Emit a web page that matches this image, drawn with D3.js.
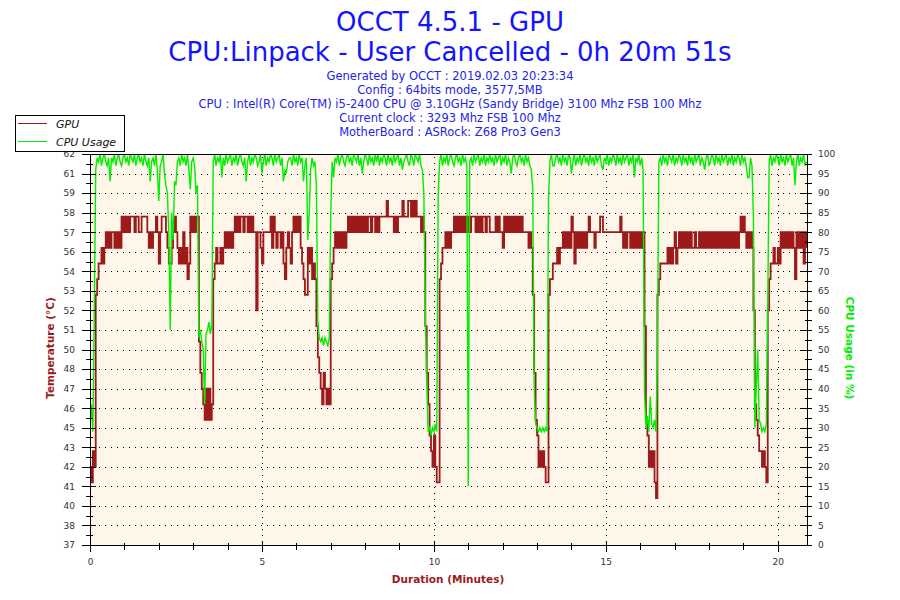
<!DOCTYPE html>
<html>
<head>
<meta charset="utf-8">
<script src="https://cdn.jsdelivr.net/npm/d3@7"></script>
<style>
body { margin: 0; background: #fff; }
text { font-family: "DejaVu Sans", Verdana, sans-serif; }
</style>
</head>
<body>
<div id="vis"></div>
<script>
// OCCT log, one sample every 2.5 seconds (20 samples per row = 50 s)
const sampleStep = 2.5;
const duration = 1251; // 0h 20m 51s

// GPU temperature (°C)
const gpuTemp = [
    42,41,43,42,53,54,55,55,56,55,56,57,56,57,56,57,57,56,57,56,
    57,56,58,57,58,57,58,57,58,58,58,57,58,58,57,57,58,58,58,58,
    57,56,57,56,57,57,58,57,55,57,58,58,58,57,56,55,55,56,57,58,
    57,56,55,56,55,57,55,56,54,55,58,57,58,57,58,58,50,48,47,46,
    45,47,45,47,45,46,54,55,56,55,55,56,55,56,57,56,57,56,57,56,
    57,58,57,58,57,58,58,57,58,58,57,58,57,58,57,57,52,57,57,56,
    55,57,57,57,57,57,58,56,58,57,56,57,57,56,57,55,54,56,57,56,
    55,57,58,57,58,57,58,56,55,54,53,53,56,55,56,54,55,54,51,49,
    48,47,46,48,47,46,47,46,54,55,56,57,56,57,56,57,56,57,56,57,
    58,57,58,57,58,57,58,57,58,57,58,57,58,57,58,58,57,58,58,57,
    58,57,58,58,58,58,58,59,58,58,58,58,57,58,57,58,58,58,59,58,
    58,58,59,59,58,59,58,59,58,58,58,57,58,57,51,48,46,44,43,42,
    44,42,41,41,54,55,56,56,57,56,57,56,57,57,58,57,58,57,58,57,
    58,57,58,57,58,57,58,58,58,57,58,57,58,57,58,58,57,58,58,57,
    57,57,57,58,57,58,57,57,56,58,57,58,57,58,57,58,57,58,57,58,
    57,58,57,57,57,57,56,57,56,53,48,45,44,42,43,42,43,42,41,41,
    53,54,54,55,55,55,56,55,56,56,57,56,57,56,57,56,58,57,55,57,
    56,57,56,57,56,57,56,57,58,57,57,57,56,57,57,57,58,58,57,57,
    57,57,57,57,57,57,57,57,57,57,58,57,56,57,56,57,57,56,57,56,
    57,56,57,56,57,56,57,51,45,44,42,43,42,43,41,40,53,54,55,55,
    55,55,55,56,55,56,55,56,57,55,56,57,56,57,56,57,56,57,56,57,
    56,56,57,56,56,57,56,57,56,57,56,57,56,57,56,57,56,57,56,57,
    56,57,56,57,56,57,56,57,56,57,56,57,56,57,58,57,58,57,56,57,
    56,57,56,52,46,45,44,43,43,42,43,42,41,52,54,55,55,56,55,55,
    56,55,57,56,57,56,57,56,57,56,57,56,54,57,56,57,56,57,55,57,
    56
];

// CPU usage (%)
const cpuUsage = [
    30,36,29,60,96,99,98,100,97,99,100,98,97,99,93,99,98,100,97,99,
    100,98,97,99,100,98,99,97,100,99,98,100,97,99,100,98,99,97,100,98,
    97,99,93,98,99,97,100,96,88,97,98,100,95,92,90,80,55,85,78,93,
    92,98,99,97,100,98,99,97,100,96,91,98,99,97,90,92,53,55,52,50,
    36,54,55,57,54,56,98,100,97,99,98,100,94,99,97,100,98,99,100,97,
    99,98,100,97,99,100,98,97,99,93,98,100,97,99,98,100,99,97,98,100,
    95,98,100,97,99,98,100,99,97,100,98,99,100,97,99,93,96,95,98,99,
    99,97,100,98,99,97,100,98,99,93,97,99,78,85,96,99,97,98,92,57,
    53,52,53,51,53,52,51,53,84,98,94,99,98,100,97,99,100,98,97,99,
    100,98,99,97,100,99,98,100,97,99,95,98,100,99,97,100,98,99,97,100,
    98,100,97,99,98,100,99,97,100,98,99,97,100,98,99,100,97,99,96,98,
    99,100,98,97,100,99,97,100,99,98,100,97,96,90,60,42,29,30,28,30,
    29,31,29,90,98,100,97,99,98,100,97,99,100,98,97,99,100,98,99,97,
    100,98,99,97,15,98,99,97,100,98,99,100,97,99,98,100,97,99,98,100,
    98,99,97,100,98,99,100,97,99,98,100,97,99,98,95,99,100,98,97,99,
    100,98,99,97,100,98,99,97,96,91,40,31,30,29,30,29,30,29,30,29,
    89,98,100,97,97,99,100,98,99,97,100,98,99,97,100,99,95,98,100,97,
    99,98,100,97,99,100,98,99,97,100,98,99,97,100,98,99,100,97,96,99,
    98,100,97,99,98,100,99,97,100,98,99,97,100,98,99,100,97,99,98,100,
    94,99,98,100,97,99,96,39,30,33,29,38,31,30,32,29,49,98,99,97,
    100,98,99,97,100,99,98,100,97,99,98,100,99,97,100,98,99,97,100,98,
    99,97,100,98,99,100,97,99,98,96,99,100,97,98,100,99,97,100,98,99,
    97,100,98,99,100,97,99,98,100,97,99,98,100,99,97,100,98,99,97,94,
    94,99,97,84,30,40,50,32,31,29,30,29,31,62,98,100,97,99,98,100,
    99,97,100,98,99,97,100,98,99,100,97,99,92,98,100,97,99,98,100,97,
    98
];

const tempTickLabels = [37,38,40,41,42,43,45,46,47,48,50,51,52,53,54,56,57,58,59,61,62];
const cpuTickLabels = [0,5,10,15,20,25,30,35,40,45,50,55,60,65,70,75,80,85,90,95,100];
const minuteTicks = [0,5,10,15,20];

const titleLines = ["OCCT 4.5.1 - GPU", "CPU:Linpack - User Cancelled - 0h 20m 51s"];
const infoLines = [
    "Generated by OCCT : 2019.02.03 20:23:34",
    "Config : 64bits mode, 3577,5MB",
    "CPU : Intel(R) Core(TM) i5-2400 CPU @ 3.10GHz (Sandy Bridge) 3100 Mhz FSB 100 Mhz",
    "Current clock : 3293 Mhz FSB 100 Mhz",
    "MotherBoard : ASRock: Z68 Pro3 Gen3"
];

const gpuColor = "#9c1a1a";
const cpuColor = "#00ee00";
const plot = {left: 90, right: 807, top: 154, bottom: 545};

const svg = d3.select("#vis").append("svg")
    .attr("width", 900)
    .attr("height", 600);

const x = d3.scaleLinear().domain([0, duration]).range([plot.left, plot.right]);
const xMin = d3.scaleLinear().domain([0, duration / 60]).range([plot.left, plot.right]);
const yTemp = d3.scaleLinear().domain([37, 62]).range([plot.bottom, plot.top]);
const yCpu = d3.scaleLinear().domain([0, 100]).range([plot.bottom, plot.top]);

// titles
svg.selectAll(".title")
    .data(titleLines)
    .join("text")
    .attr("x", 450)
    .attr("y", (d, i) => 31 + i * 30)
    .attr("text-anchor", "middle")
    .attr("font-size", 26)
    .attr("fill", "#1414ff")
    .text(d => d);

svg.selectAll(".info")
    .data(infoLines)
    .join("text")
    .attr("x", 450)
    .attr("y", (d, i) => 80 + i * 14)
    .attr("text-anchor", "middle")
    .attr("font-size", 11.5)
    .attr("fill", "#2424e6")
    .text(d => d);

// plot background
svg.append("rect")
    .attr("x", plot.left).attr("y", plot.top)
    .attr("width", plot.right - plot.left)
    .attr("height", plot.bottom - plot.top)
    .attr("fill", "#fdf6e9");

// dotted grid
const grid = svg.append("g")
    .attr("stroke", "#000")
    .attr("stroke-dasharray", "1,5")
    .attr("shape-rendering", "crispEdges");
grid.selectAll(".hg")
    .data(cpuTickLabels.slice(1, -1))
    .join("line")
    .attr("x1", plot.left + 9).attr("x2", plot.right)
    .attr("y1", d => Math.round(yCpu(d)) + 0.5)
    .attr("y2", d => Math.round(yCpu(d)) + 0.5);
grid.selectAll(".vg")
    .data(minuteTicks.slice(1))
    .join("line")
    .attr("x1", d => Math.round(xMin(d)) + 0.5)
    .attr("x2", d => Math.round(xMin(d)) + 0.5)
    .attr("y1", plot.top + 3).attr("y2", plot.bottom);

// series
svg.append("clipPath").attr("id", "clip")
    .append("rect")
    .attr("x", plot.left).attr("y", plot.top)
    .attr("width", plot.right - plot.left)
    .attr("height", plot.bottom - plot.top);

const tempLine = d3.line()
    .x((d, i) => x(i * sampleStep))
    .y(d => yTemp(d))
    .curve(d3.curveStepAfter);

const cpuLine = d3.line()
    .x((d, i) => x(i * sampleStep))
    .y(d => yCpu(d));

svg.append("path")
    .datum(gpuTemp)
    .attr("clip-path", "url(#clip)")
    .attr("fill", "none")
    .attr("stroke", gpuColor)
    .attr("stroke-width", 1.8)
    .attr("d", tempLine);

svg.append("path")
    .datum(cpuUsage)
    .attr("clip-path", "url(#clip)")
    .attr("fill", "none")
    .attr("stroke", cpuColor)
    .attr("stroke-width", 1.4)
    .attr("d", cpuLine);

// frame
svg.append("rect")
    .attr("x", plot.left + 0.5).attr("y", plot.top + 0.5)
    .attr("width", plot.right - plot.left)
    .attr("height", plot.bottom - plot.top)
    .attr("fill", "none")
    .attr("stroke", "#000");

// axes
function styleAxis(g) {
    g.select(".domain").remove();
    g.selectAll(".tick text")
        .attr("font-family", "DejaVu Sans, Verdana, sans-serif")
        .attr("font-size", 9)
        .attr("fill", "#333");
    g.selectAll("line").attr("stroke", "#000").attr("shape-rendering", "crispEdges");
}

const leftAxis = svg.append("g")
    .attr("transform", `translate(${plot.left},0)`)
    .call(d3.axisLeft(yCpu).tickValues(cpuTickLabels).tickSize(8).tickPadding(7)
        .tickFormat((d, i) => tempTickLabels[i]))
    .call(styleAxis);
leftAxis.selectAll(".tick line").attr("x1", 6);

svg.append("g")
    .attr("transform", `translate(${plot.left},0)`)
    .call(d3.axisLeft(yCpu).tickValues(d3.range(2.5, 100, 5)).tickSize(4).tickFormat(""))
    .call(styleAxis)
    .selectAll(".tick line").attr("x1", 3);

const rightAxis = svg.append("g")
    .attr("transform", `translate(${plot.right},0)`)
    .call(d3.axisRight(yCpu).tickValues(cpuTickLabels).tickSize(5).tickPadding(6))
    .call(styleAxis);
rightAxis.selectAll(".tick line").attr("x1", -7);

svg.append("g")
    .attr("transform", `translate(${plot.right},0)`)
    .call(d3.axisRight(yCpu).tickValues(d3.range(2.5, 100, 5)).tickSize(5).tickFormat(""))
    .call(styleAxis)
    .selectAll(".tick line").attr("x1", -2);

const bottomAxis = svg.append("g")
    .attr("transform", `translate(0,${plot.bottom})`)
    .call(d3.axisBottom(xMin).tickValues(minuteTicks).tickSize(7).tickPadding(7))
    .call(styleAxis);
bottomAxis.selectAll(".tick line").attr("y1", -4);

svg.append("g")
    .attr("transform", `translate(0,${plot.bottom})`)
    .call(d3.axisBottom(xMin).tickValues(d3.range(1, 21)).tickSize(5).tickFormat(""))
    .call(styleAxis)
    .selectAll(".tick line").attr("y1", -2);

// axis titles
svg.append("text")
    .attr("transform", "translate(54,348) rotate(-90)")
    .attr("text-anchor", "middle")
    .attr("font-size", 10.5)
    .attr("font-weight", "bold")
    .attr("fill", gpuColor)
    .text("Temperature (°C)");

svg.append("text")
    .attr("transform", "translate(846,348) rotate(90)")
    .attr("text-anchor", "middle")
    .attr("font-size", 10.5)
    .attr("font-weight", "bold")
    .attr("fill", cpuColor)
    .text("CPU Usage (in %)");

svg.append("text")
    .attr("x", 448).attr("y", 583)
    .attr("text-anchor", "middle")
    .attr("font-size", 10.5)
    .attr("font-weight", "bold")
    .attr("fill", gpuColor)
    .text("Duration (Minutes)");

// legend
const legendItems = [
    {name: "GPU", color: gpuColor},
    {name: "CPU Usage", color: cpuColor}
];
const legend = svg.append("g");
legend.append("rect")
    .attr("x", 15.5).attr("y", 115.5)
    .attr("width", 109).attr("height", 36)
    .attr("fill", "#fff")
    .attr("stroke", "#000");
const li = legend.selectAll(".li")
    .data(legendItems)
    .join("g")
    .attr("transform", (d, i) => `translate(0,${123.5 + i * 18})`);
li.append("line")
    .attr("x1", 18).attr("x2", 47)
    .attr("stroke", d => d.color)
    .attr("stroke-width", 1);
li.append("text")
    .attr("x", 56).attr("y", 4)
    .attr("font-size", 11)
    .attr("font-style", "italic")
    .attr("fill", "#111")
    .text(d => d.name);
</script>
</body>
</html>
